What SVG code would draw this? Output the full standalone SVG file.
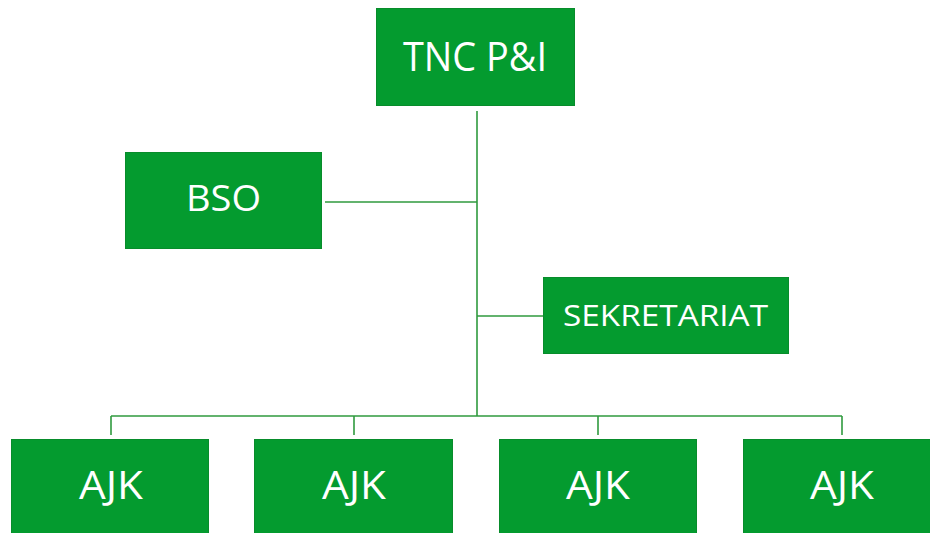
<svg xmlns="http://www.w3.org/2000/svg" width="930" height="533" viewBox="0 0 930 533">
<style>
.box{fill:#049b2f;stroke:#088c2b;stroke-width:1}
.lbl{fill:#ffffff;font-family:"Open Sans","Noto Sans","Liberation Sans",sans-serif;text-anchor:middle}
.con{stroke:#2f9a3e;stroke-width:1.6;fill:none}
</style>
<rect width="930" height="533" fill="#ffffff"/>
<g id="connectors">
<line class="con" x1="477" y1="111" x2="477" y2="416"/>
<line class="con" x1="325" y1="202" x2="477" y2="202"/>
<line class="con" x1="477" y1="316" x2="543" y2="316"/>
<line class="con" x1="111" y1="416" x2="842" y2="416"/>
<line class="con" x1="111" y1="416" x2="111" y2="435"/>
<line class="con" x1="354" y1="416" x2="354" y2="435"/>
<line class="con" x1="598" y1="416" x2="598" y2="435"/>
<line class="con" x1="842" y1="416" x2="842" y2="435"/>
</g>
<g id="tnc">
<rect class="box" x="376.5" y="8.5" width="198" height="97"/>
<text class="lbl" x="475" y="71" font-size="40" textLength="144" lengthAdjust="spacingAndGlyphs">TNC P&amp;I</text>
</g>
<g id="bso">
<rect class="box" x="125.5" y="152.5" width="196" height="96"/>
<text class="lbl" x="223.5" y="211" font-size="36" textLength="75" lengthAdjust="spacingAndGlyphs">BSO</text>
</g>
<g id="sekretariat">
<rect class="box" x="543.5" y="277.5" width="245" height="76"/>
<text class="lbl" x="665.5" y="326" font-size="29" textLength="205" lengthAdjust="spacingAndGlyphs">SEKRETARIAT</text>
</g>
<g id="ajk1">
<rect class="box" x="11.5" y="439.5" width="197" height="98"/>
<text class="lbl" x="111" y="499" font-size="39" textLength="64" lengthAdjust="spacingAndGlyphs">AJK</text>
</g>
<g id="ajk2">
<rect class="box" x="254.5" y="439.5" width="198" height="98"/>
<text class="lbl" x="354" y="499" font-size="39" textLength="64" lengthAdjust="spacingAndGlyphs">AJK</text>
</g>
<g id="ajk3">
<rect class="box" x="499.5" y="439.5" width="197" height="98"/>
<text class="lbl" x="598" y="499" font-size="39" textLength="64" lengthAdjust="spacingAndGlyphs">AJK</text>
</g>
<g id="ajk4">
<rect class="box" x="743.5" y="439.5" width="198" height="98"/>
<text class="lbl" x="842" y="499" font-size="39" textLength="64" lengthAdjust="spacingAndGlyphs">AJK</text>
</g>
</svg>
